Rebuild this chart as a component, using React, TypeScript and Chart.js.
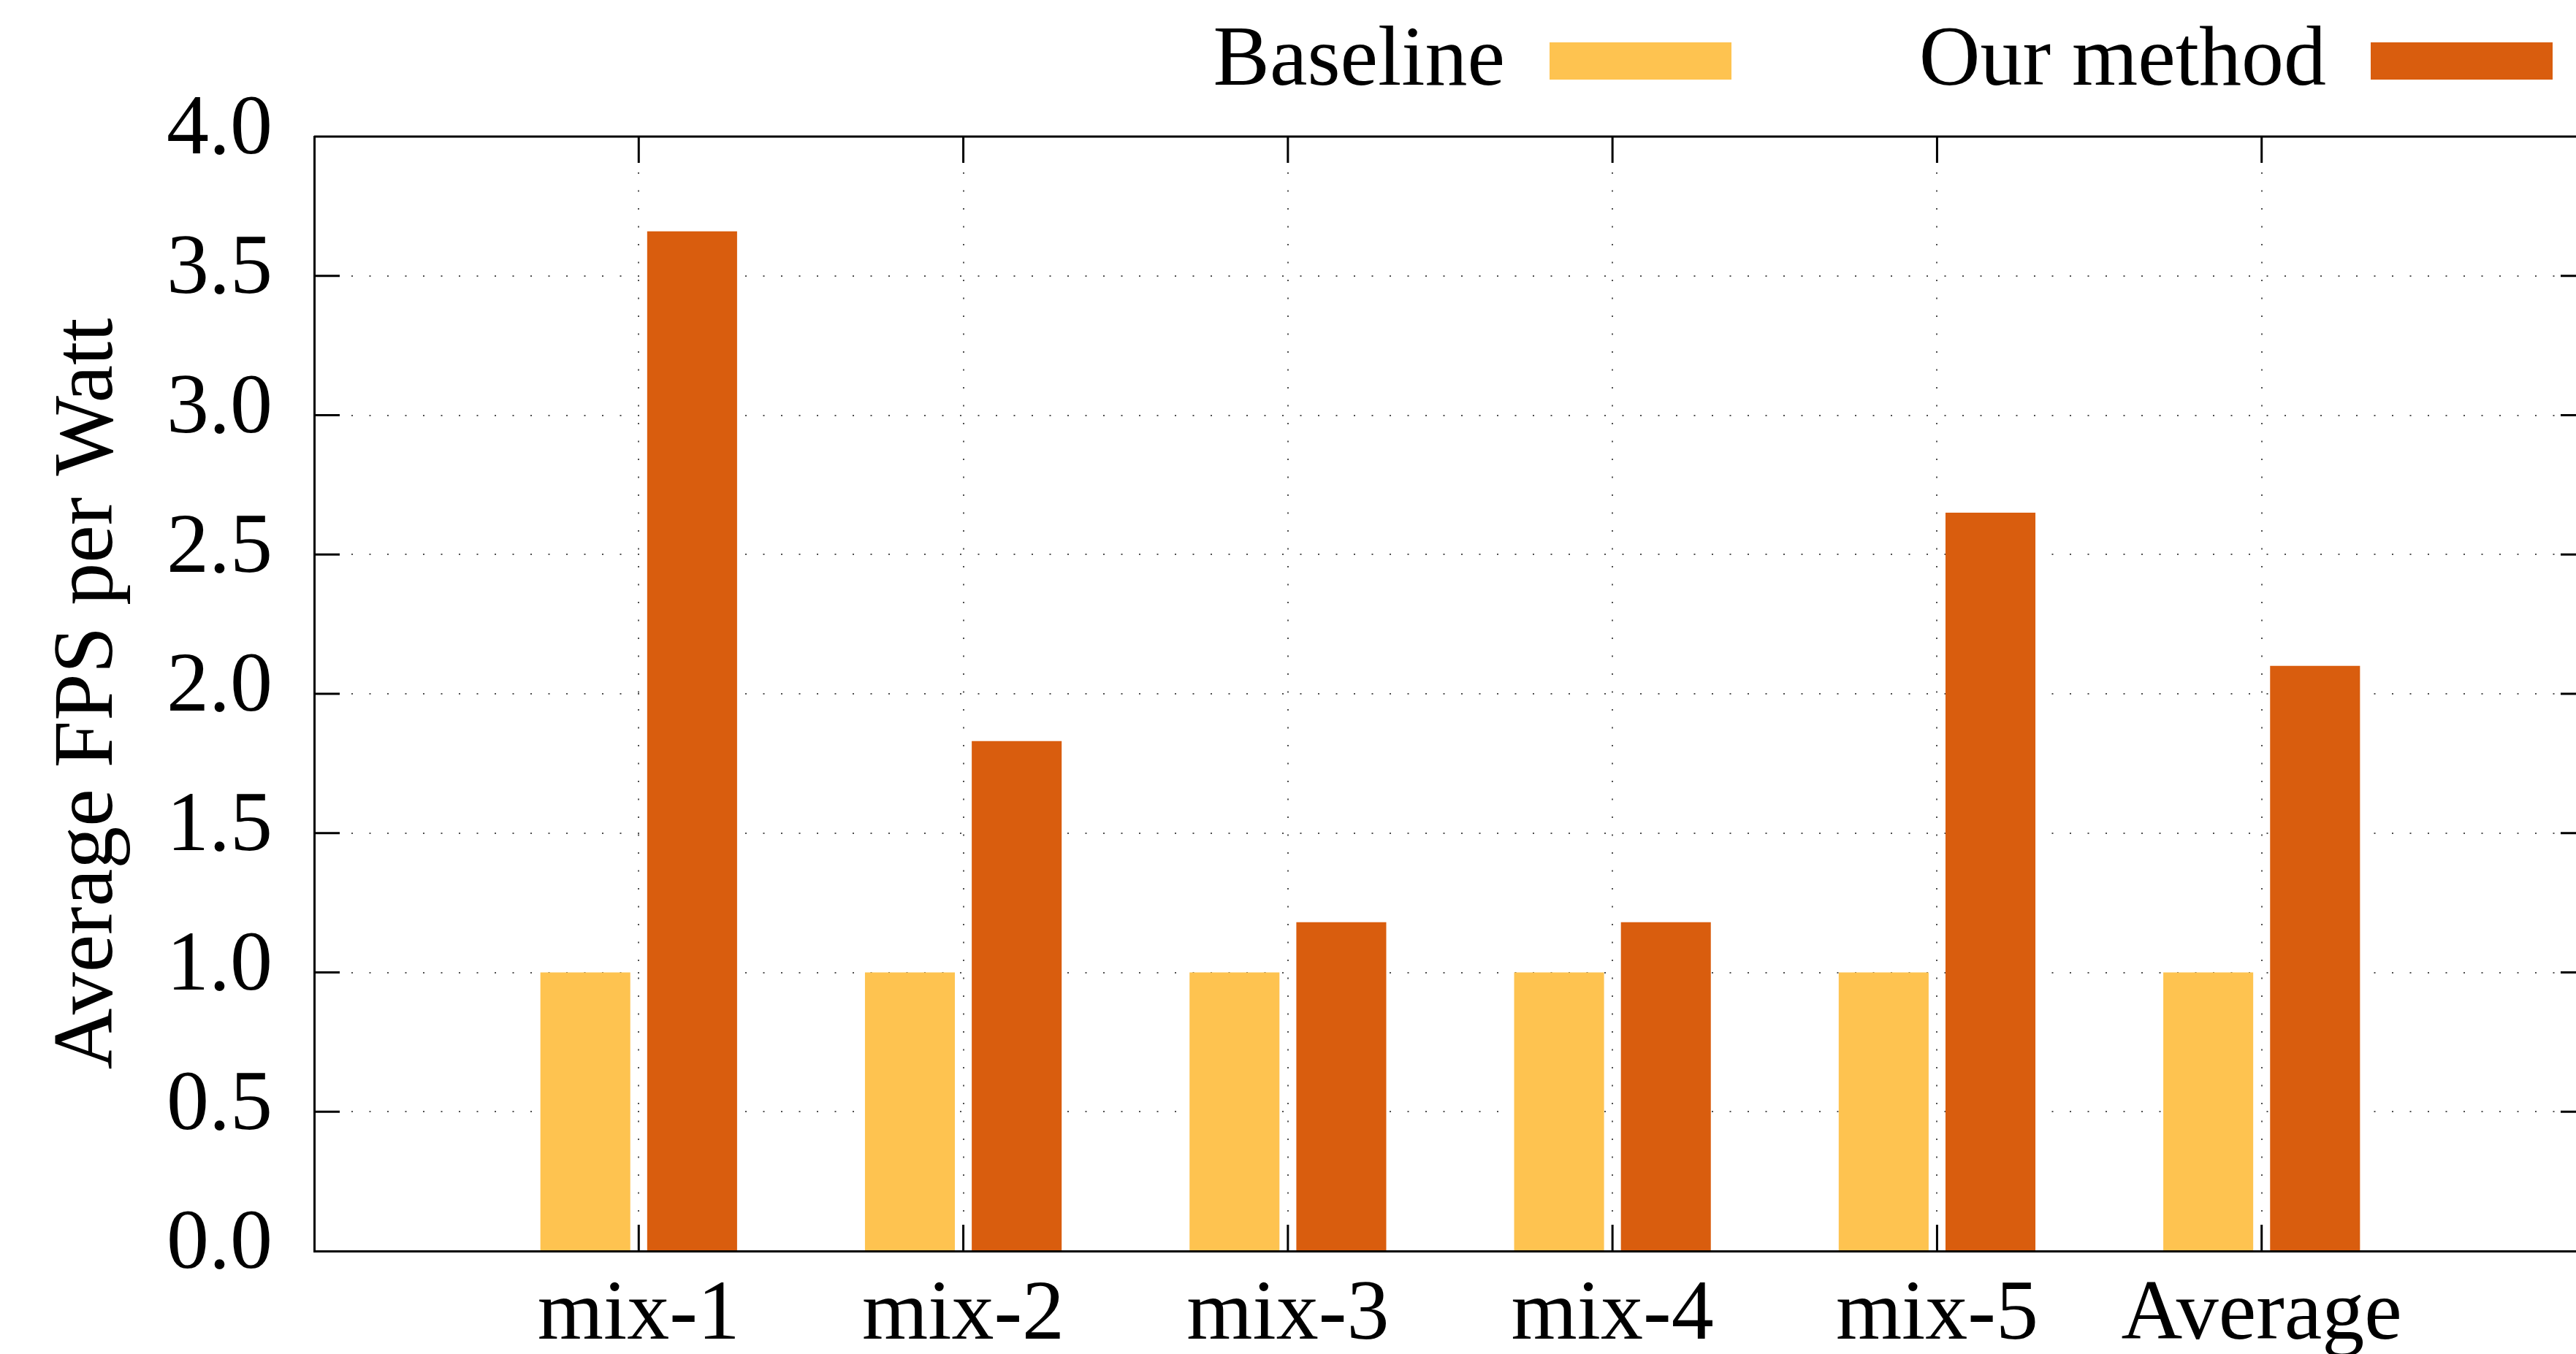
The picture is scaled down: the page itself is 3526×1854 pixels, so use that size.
import React, { useEffect, useRef } from 'react';
import { Chart, registerables } from 'chart.js';

Chart.register(...registerables);

const categories = ['mix-1', 'mix-2', 'mix-3', 'mix-4', 'mix-5', 'Average'];
const baselineValues = [1.0, 1.0, 1.0, 1.0, 1.0, 1.0];
const ourMethodValues = [3.66, 1.83, 1.18, 1.18, 2.65, 2.1];
const seriesNames = ['Baseline', 'Our method'];
const seriesColors = ['#fec350', '#d95d0e'];
const yTickValues = [0, 0.5, 1.0, 1.5, 2.0, 2.5, 3.0, 3.5, 4.0];
const yTitle = 'Average FPS per Watt';

const FONT = "'Liberation Serif', 'Times New Roman', serif";
const FS = 116;
const W = 3545;
const H = 1854;

const legendPlugin = {
  id: 'gpLegend',
  afterDraw(chart: any) {
    const ctx = chart.ctx;
    const ds = chart.data.datasets;
    const slot = 1124, swW = 249, swH = 51, swTop = 58, gap = 61, rightEdge = 3494, baseline = 116;
    ctx.save();
    ctx.font = `${FS}px ${FONT}`;
    ctx.textAlign = 'right';
    ctx.textBaseline = 'alphabetic';
    const n = ds.length;
    ds.forEach((d: any, i: number) => {
      const right = rightEdge - (n - 1 - i) * slot;
      ctx.fillStyle = d.backgroundColor;
      ctx.fillRect(right - swW, swTop, swW, swH);
      ctx.fillStyle = '#000';
      ctx.fillText(d.label, right - swW - gap, baseline);
    });
    ctx.restore();
  },
};

const framePlugin = {
  id: 'gpFrame',
  afterDatasetsDraw(chart: any) {
    const { ctx, chartArea, scales } = chart;
    const { left, right, top, bottom } = chartArea;
    const x = scales.x;
    const y = scales.y;
    ctx.save();
    ctx.strokeStyle = '#000';
    ctx.lineWidth = 3;
    ctx.beginPath();
    ctx.moveTo(left, top);
    ctx.lineTo(right, top);
    ctx.lineTo(right, bottom);
    for (let i = 1; i <= categories.length; i++) {
      const px = x.getPixelForValue(i);
      ctx.moveTo(px, bottom);
      ctx.lineTo(px, bottom - 36);
      ctx.moveTo(px, top);
      ctx.lineTo(px, top + 36);
    }
    y.ticks.forEach((t: any) => {
      if (t.value > 0 && t.value < 4) {
        const py = y.getPixelForValue(t.value);
        ctx.moveTo(left, py);
        ctx.lineTo(left + 35, py);
        ctx.moveTo(right, py);
        ctx.lineTo(right - 35, py);
      }
    });
    ctx.stroke();
    ctx.restore();
  },
};

export default function App() {
  const ref = useRef<HTMLCanvasElement | null>(null);

  useEffect(() => {
    const canvas = ref.current;
    if (!canvas) return;
    const labels = ['', ...categories, ''];
    const chart = new Chart(canvas, {
      type: 'bar',
      data: {
        labels,
        datasets: [
          {
            label: seriesNames[0],
            data: [null, ...baselineValues, null],
            backgroundColor: seriesColors[0],
            borderWidth: 0,
            categoryPercentage: 0.658,
            barPercentage: 0.842,
          },
          {
            label: seriesNames[1],
            data: [null, ...ourMethodValues, null],
            backgroundColor: seriesColors[1],
            borderWidth: 0,
            categoryPercentage: 0.658,
            barPercentage: 0.842,
          },
        ],
      },
      options: {
        responsive: false,
        animation: false,
        devicePixelRatio: 1,
        layout: { padding: { top: 187, right: 5, left: 0, bottom: 0 } },
        plugins: {
          legend: { display: false },
          tooltip: { enabled: false },
        },
        scales: {
          x: {
            type: 'category',
            offset: false,
            afterFit: (s: any) => {
              s.height = H - 1713;
              s.paddingLeft = 0;
              s.paddingRight = 0;
            },
            grid: {
              offset: false,
              drawTicks: false,
              lineWidth: 2,
              color: (c: any) =>
                c.index === 0 || c.index === labels.length - 1 ? 'rgba(0,0,0,0)' : '#505050',
            },
            border: { display: true, color: '#000', width: 3, dash: [2, 22.5] },
            ticks: {
              autoSkip: false,
              maxRotation: 0,
              minRotation: 0,
              padding: 20,
              color: '#000',
              font: { family: FONT, size: FS },
            },
          },
          y: {
            type: 'linear',
            min: 0,
            max: 4,
            afterFit: (s: any) => {
              s.width = 430;
            },
            afterBuildTicks: (s: any) => {
              s.ticks = yTickValues.map((v) => ({ value: v }));
            },
            grid: {
              drawTicks: false,
              lineWidth: 2,
              color: (c: any) =>
                c.tick && (c.tick.value === 0 || c.tick.value === 4) ? 'rgba(0,0,0,0)' : '#505050',
            },
            border: { display: true, color: '#000', width: 3, dash: [2, 22.5] },
            ticks: {
              padding: 57,
              labelOffset: -7,
              color: '#000',
              font: { family: FONT, size: FS },
              callback: (v: any) => Number(v).toFixed(1),
            },
            title: {
              display: true,
              text: yTitle,
              color: '#000',
              font: { family: FONT, size: FS },
              padding: { top: 53, bottom: 0 },
            },
          },
        },
      },
      plugins: [legendPlugin, framePlugin],
    } as any);
    return () => chart.destroy();
  }, []);

  return (
    <div
      style={{
        position: 'fixed',
        left: 0,
        top: 0,
        width: '100vw',
        height: '100vh',
        overflow: 'hidden',
        background: '#fff',
      }}
    >
      <canvas ref={ref} width={W} height={H} style={{ display: 'block', width: W, height: H }} />
    </div>
  );
}
